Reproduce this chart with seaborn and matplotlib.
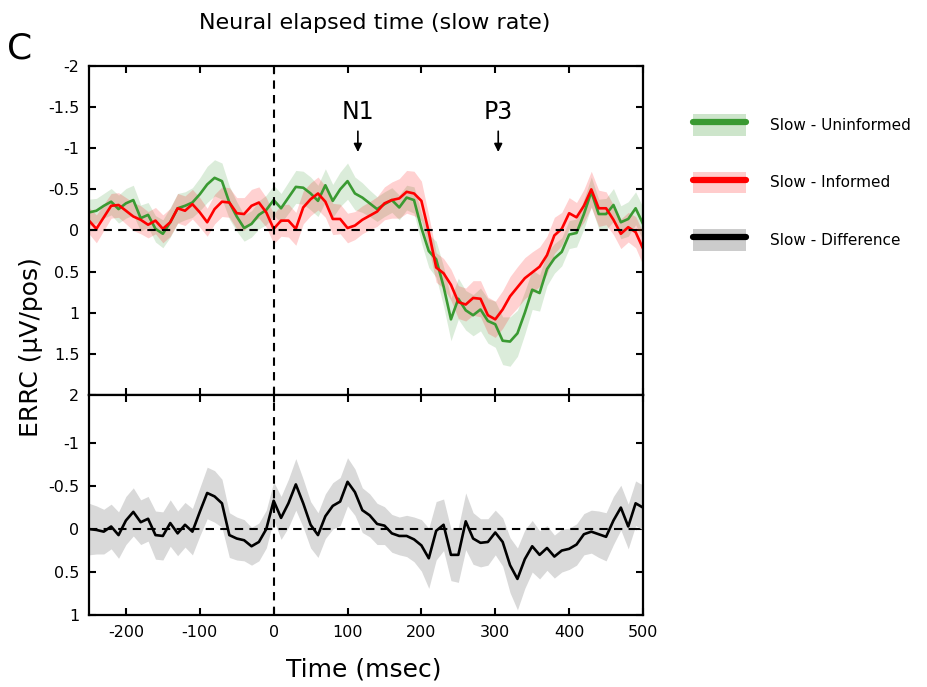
import matplotlib
matplotlib.use('Agg')
import matplotlib.pyplot as plt
from matplotlib.patches import Patch
from matplotlib.lines import Line2D
from matplotlib.ticker import FuncFormatter
import numpy as np
import pandas as pd
import seaborn as sns

# time axis (msec), one value every 10 ms
time_ms = list(range(-250, 501, 10))

# ERRC (uV/pos), y axis is inverted
uninformed = [-0.22, -0.24, -0.30, -0.35, -0.26, -0.33, -0.37, -0.15, -0.19, -0.02,
              0.04, -0.10, -0.27, -0.30, -0.34, -0.44, -0.56, -0.64, -0.60, -0.34,
              -0.17, -0.03, -0.08, -0.19, -0.25, -0.37, -0.27, -0.40, -0.53, -0.52,
              -0.45, -0.36, -0.55, -0.36, -0.50, -0.60, -0.45, -0.40, -0.33, -0.26,
              -0.32, -0.37, -0.28, -0.40, -0.37, -0.03, 0.25, 0.35, 0.68, 1.08,
              0.83, 0.97, 1.03, 0.96, 1.10, 1.14, 1.34, 1.35, 1.25, 1.00,
              0.72, 0.76, 0.47, 0.34, 0.26, 0.05, 0.03, -0.20, -0.47, -0.20,
              -0.20, -0.31, -0.10, -0.14, -0.27, -0.08]
uninformed_se = [0.16, 0.15, 0.15, 0.16, 0.17, 0.18, 0.18, 0.16, 0.15, 0.16,
                 0.17, 0.18, 0.18, 0.17, 0.18, 0.20, 0.22, 0.22, 0.22, 0.20,
                 0.18, 0.16, 0.16, 0.17, 0.18, 0.18, 0.18, 0.19, 0.20, 0.20,
                 0.20, 0.19, 0.20, 0.20, 0.21, 0.22, 0.20, 0.18, 0.16, 0.15,
                 0.15, 0.15, 0.15, 0.15, 0.16, 0.18, 0.20, 0.22, 0.24, 0.26,
                 0.25, 0.24, 0.25, 0.26, 0.27, 0.28, 0.29, 0.30, 0.28, 0.26,
                 0.24, 0.22, 0.20, 0.18, 0.17, 0.17, 0.17, 0.18, 0.18, 0.18,
                 0.19, 0.20, 0.20, 0.21, 0.20, 0.20]

informed = [-0.12, -0.02, -0.16, -0.30, -0.31, -0.24, -0.17, -0.13, -0.07, -0.12,
            -0.02, -0.10, -0.27, -0.24, -0.32, -0.22, -0.10, -0.26, -0.35, -0.34,
            -0.21, -0.20, -0.30, -0.34, -0.22, -0.02, -0.12, -0.12, -0.02, -0.28,
            -0.38, -0.45, -0.35, -0.14, -0.14, -0.03, -0.06, -0.13, -0.18, -0.23,
            -0.33, -0.37, -0.39, -0.47, -0.45, -0.36, 0.02, 0.45, 0.52, 0.66,
            0.87, 0.90, 0.82, 0.83, 1.03, 1.08, 0.96, 0.80, 0.69, 0.58,
            0.51, 0.44, 0.30, 0.06, -0.02, -0.21, -0.16, -0.30, -0.50, -0.27,
            -0.27, -0.13, 0.04, -0.04, 0.02, 0.22]
informed_se = [0.16, 0.17, 0.16, 0.15, 0.15, 0.16, 0.17, 0.17, 0.16, 0.16,
               0.17, 0.17, 0.18, 0.18, 0.18, 0.18, 0.17, 0.18, 0.18, 0.18,
               0.19, 0.20, 0.20, 0.19, 0.18, 0.18, 0.19, 0.20, 0.20, 0.20,
               0.20, 0.20, 0.19, 0.19, 0.18, 0.18, 0.17, 0.17, 0.17, 0.18,
               0.20, 0.22, 0.24, 0.26, 0.27, 0.24, 0.20, 0.18, 0.18, 0.19,
               0.20, 0.20, 0.21, 0.22, 0.22, 0.22, 0.23, 0.24, 0.25, 0.25,
               0.25, 0.24, 0.23, 0.22, 0.20, 0.19, 0.18, 0.20, 0.22, 0.22,
               0.20, 0.18, 0.18, 0.18, 0.19, 0.20]

difference = [0.00, 0.01, 0.03, -0.03, 0.07, -0.10, -0.20, -0.08, -0.12, 0.07,
              0.08, -0.07, 0.05, -0.05, 0.03, -0.20, -0.42, -0.38, -0.30, 0.07,
              0.11, 0.13, 0.20, 0.15, 0.00, -0.33, -0.13, -0.30, -0.52, -0.30,
              -0.05, 0.07, -0.15, -0.27, -0.32, -0.55, -0.43, -0.22, -0.16, -0.06,
              -0.04, 0.05, 0.08, 0.08, 0.12, 0.19, 0.34, 0.02, -0.05, 0.30,
              0.30, -0.09, 0.11, 0.16, 0.15, 0.04, 0.15, 0.42, 0.58, 0.35,
              0.20, 0.30, 0.22, 0.32, 0.25, 0.23, 0.18, 0.06, 0.03, 0.06,
              0.09, -0.10, -0.25, -0.03, -0.30, -0.25]
difference_se = [0.30, 0.28, 0.26, 0.26, 0.27, 0.28, 0.28, 0.26, 0.26, 0.28,
                 0.28, 0.27, 0.26, 0.26, 0.27, 0.28, 0.30, 0.30, 0.28, 0.26,
                 0.25, 0.24, 0.22, 0.22, 0.22, 0.22, 0.25, 0.28, 0.30, 0.28,
                 0.27, 0.26, 0.26, 0.27, 0.28, 0.28, 0.27, 0.26, 0.25, 0.24,
                 0.22, 0.22, 0.22, 0.24, 0.26, 0.30, 0.35, 0.34, 0.30, 0.30,
                 0.32, 0.33, 0.30, 0.28, 0.27, 0.26, 0.28, 0.32, 0.36, 0.34,
                 0.30, 0.28, 0.26, 0.25, 0.25, 0.24, 0.24, 0.24, 0.25, 0.27,
                 0.28, 0.28, 0.26, 0.26, 0.26, 0.26]

labels = ['Slow - Uninformed', 'Slow - Informed', 'Slow - Difference']
green = '#3a9a32'
red = '#ff0000'

df = pd.DataFrame({'time': time_ms, 'unin': uninformed, 'unin_se': uninformed_se,
                   'inf': informed, 'inf_se': informed_se,
                   'diff': difference, 'diff_se': difference_se})

sns.set_style('ticks', {'axes.edgecolor': 'black', 'text.color': 'black',
                        'xtick.color': 'black', 'ytick.color': 'black',
                        'axes.labelcolor': 'black'})
plt.rcParams['font.family'] = ['DejaVu Sans']
plt.rcParams['axes.unicode_minus'] = False

fig = plt.figure(figsize=(9.28, 6.87), dpi=100)
ax1 = fig.add_axes([0.0959, 0.425, 0.597, 0.479])
ax2 = fig.add_axes([0.0959, 0.1048, 0.597, 0.3202])

# top panel: the two conditions
ax1.fill_between(df['time'], df['unin'] - df['unin_se'], df['unin'] + df['unin_se'],
                 color=green, alpha=0.18, lw=0)
ax1.fill_between(df['time'], df['inf'] - df['inf_se'], df['inf'] + df['inf_se'],
                 color=red, alpha=0.18, lw=0)
sns.lineplot(data=df, x='time', y='unin', color=green, lw=1.9, ax=ax1)
sns.lineplot(data=df, x='time', y='inf', color=red, lw=1.9, ax=ax1)

# bottom panel: difference wave
ax2.fill_between(df['time'], df['diff'] - df['diff_se'], df['diff'] + df['diff_se'],
                 color='#d9d9d9', lw=0)
sns.lineplot(data=df, x='time', y='diff', color='black', lw=1.9, ax=ax2)

fmt = FuncFormatter(lambda v, p: '%g' % v)
for ax in (ax1, ax2):
    ax.axhline(0, color='black', ls=(0, (4, 3)), lw=1.5)
    ax.axvline(0, color='black', ls=(0, (4, 3)), lw=1.5)
    ax.set_xlim(-250, 500)
    ax.set_xticks([-200, -100, 0, 100, 200, 300, 400, 500])
    ax.yaxis.set_major_formatter(fmt)
    ax.tick_params(direction='in', top=True, right=True, length=5, width=1.5,
                   labelsize=11.5, pad=7, colors='black')
    for s in ax.spines.values():
        s.set_linewidth(1.6)
        s.set_color('black')
    ax.set_xlabel('')
    ax.set_ylabel('')

ax1.set_ylim(2, -2)
ax1.set_yticks([-2, -1.5, -1, -0.5, 0, 0.5, 1, 1.5, 2])
ax1.tick_params(labelbottom=False)
ax2.set_ylim(1, -1.56)
ax2.set_yticks([-1, -0.5, 0, 0.5, 1])

# component markers
for name, t in [('N1', 114), ('P3', 304)]:
    ax1.annotate('', xy=(t, -0.92), xytext=(t, -1.24),
                 arrowprops=dict(arrowstyle='-|>', color='black', lw=1.2,
                                 mutation_scale=12))
    ax1.text(t, -1.44, name, ha='center', va='center', fontsize=17, color='black')

fig.text(0.404, 0.966, 'Neural elapsed time (slow rate)', ha='center', va='center',
         fontsize=16, color='black')
fig.text(0.008, 0.93, 'C', ha='left', va='center', fontsize=26, color='black')
fig.text(0.033, 0.495, 'ERRC (\u03bcV/pos)', ha='center', va='center', rotation=90,
         fontsize=18, color='black')
fig.text(0.392, 0.025, 'Time (msec)', ha='center', va='center', fontsize=18, color='black')

handles = [
    (Patch(facecolor=green, alpha=0.25, lw=0), Line2D([], [], color=green, lw=4.5)),
    (Patch(facecolor=red, alpha=0.2, lw=0), Line2D([], [], color=red, lw=4.5)),
    (Patch(facecolor='#cccccc', lw=0), Line2D([], [], color='black', lw=4.5)),
]
leg = fig.legend(handles, labels, loc='upper left', bbox_to_anchor=(0.738, 0.845),
                 frameon=False, fontsize=11, handlelength=3.5, handleheight=1.8,
                 labelspacing=2.35, handletextpad=1.6, borderpad=0)
for txt in leg.get_texts():
    txt.set_color('black')

fig.savefig('out.png', dpi=100)
